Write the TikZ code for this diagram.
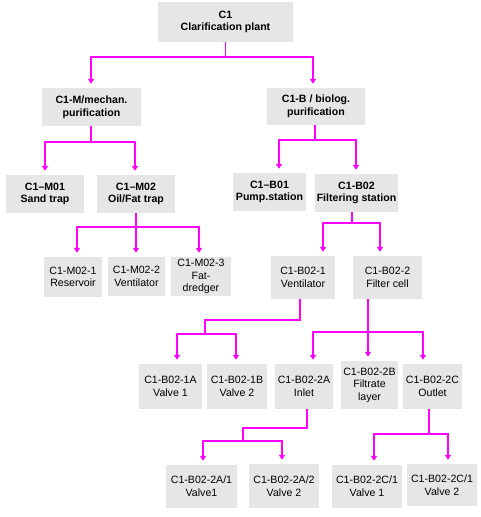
\documentclass[tikz,border=0pt]{standalone}
\usepackage{fontspec}
\setmainfont{Liberation Sans}
\usepackage{tikz}
\usetikzlibrary{arrows.meta}
\definecolor{boxgray}{RGB}{230,230,230}
\definecolor{linkmagenta}{RGB}{255,0,255}
\tikzset{
    unit box/.style={fill=boxgray, inner sep=0pt, align=center, font=\fontsize{10.6}{12.6}\selectfont},
    head box/.style={unit box, font=\fontsize{10.6}{12.6}\selectfont\bfseries},
    link/.style={draw=linkmagenta, line width=1.6pt},
    link arrow/.style={link, -{Triangle[width=6pt,length=5pt]}, shorten >=4pt},
}

\begin{document}
\begin{tikzpicture}[x=1pt, y=-1pt]
    \useasboundingbox (0,0) rectangle (481,517);
    % top levels
    \node[head box, minimum width=135, minimum height=40] (c1) at (225.5,22) {C1\\Clarification plant};
    \node[head box, minimum width=99, minimum height=38] (mech) at (91.5,107) {C1-M/mechan.\\purification};
    \node[head box, minimum width=98, minimum height=37] (bio) at (316,106.5) {C1-B / biolog.\\purification};
    \node[head box, minimum width=78, minimum height=38] (m01) at (45,194) {C1--M01\\Sand trap};
    \node[head box, minimum width=78, minimum height=38] (m02) at (136,194) {C1--M02\\Oil/Fat trap};
    \node[head box, minimum width=73, minimum height=38] (b01) at (269.5,192) {C1--B01\\Pump.station};
    \node[head box, minimum width=83, minimum height=38] (b02) at (356.5,193) {C1-B02\\Filtering station};
    % units
    \node[unit box, minimum width=58, minimum height=40] (m021) at (73,277) {C1-M02-1\\Reservoir};
    \node[unit box, minimum width=57, minimum height=39] (m022) at (136.5,276.5) {C1-M02-2\\Ventilator};
    \node[unit box, minimum width=60, minimum height=39] (m023) at (201,276.5) {C1-M02-3\\Fat-\\dredger};
    \node[unit box, minimum width=64, minimum height=43] (b021) at (303,277.5) {C1-B02-1\\Ventilator};
    \node[unit box, minimum width=69, minimum height=43] (b022) at (387.5,277.5) {C1-B02-2\\Filter cell};
    \node[unit box, minimum width=63, minimum height=45] (b021a) at (170.5,386.5) {C1-B02-1A\\Valve 1};
    \node[unit box, minimum width=60, minimum height=45] (b021b) at (237,386.5) {C1-B02-1B\\Valve 2};
    \node[unit box, minimum width=58, minimum height=45] (b022a) at (304,386.5) {C1-B02-2A\\Inlet};
    \node[unit box, minimum width=57, minimum height=48] (b022b) at (369.5,385) {C1-B02-2B\\Filtrate\\layer};
    \node[unit box, minimum width=59, minimum height=45] (b022c) at (432.5,386.5) {C1-B02-2C\\Outlet};
    \node[unit box, minimum width=71, minimum height=43] (b022a1) at (201.5,486.5) {C1-B02-2A/1\\Valve1};
    \node[unit box, minimum width=70, minimum height=44] (b022a2) at (284,486) {C1-B02-2A/2\\Valve 2};
    \node[unit box, minimum width=70, minimum height=43] (b022c1) at (367,486.5) {C1-B02-2C/1\\Valve 1};
    \node[unit box, minimum width=70, minimum height=42] (b022c2) at (442,485) {C1-B02-2C/1\\Valve 2};

    % connectors
    \draw[link] (c1.south) -- ++(0,15) coordinate (jc1);
    \draw[link arrow] (jc1) -| ([xshift=-0.5pt]mech.north);
    \draw[link arrow] (jc1) -| ([xshift=-3pt]bio.north);

    \draw[link] ([xshift=-0.5pt]mech.south) -- ++(0,16) coordinate (jmech);
    \draw[link arrow] (jmech) -| (m01.north);
    \draw[link arrow] (jmech) -| ([xshift=-1pt]m02.north);

    \draw[link] ([xshift=-1pt]bio.south) -- ++(0,15) coordinate (jbio);
    \draw[link arrow] (jbio) -| ([xshift=9.5pt]b01.north);
    \draw[link arrow] (jbio) -| ([xshift=-0.5pt]b02.north);

    \draw[link] (m02.south) -- ++(0,14) coordinate (jm02);
    \draw[link arrow] (jm02) -| ([xshift=4pt]m021.north);
    \draw[link arrow] (jm02) -| ([xshift=-0.5pt]m022.north);
    \draw[link arrow] (jm02) -| ([xshift=-2pt]m023.north);

    \draw[link] ([xshift=-4.5pt]b02.south) -- ++(0,11) coordinate (jb02);
    \draw[link arrow] (jb02) -| ([xshift=20pt]b021.north);
    \draw[link arrow] (jb02) -| ([xshift=-7.5pt]b022.north);

    \draw[link] ([xshift=-3pt]b021.south) -- ++(0,21) -- ++(-95,0) -- ++(0,14) coordinate (jb021);
    \draw[link arrow] (jb021) -| ([xshift=6.5pt]b021a.north);
    \draw[link arrow] (jb021) -| ([xshift=-1pt]b021b.north);

    \draw[link] ([xshift=-19.5pt]b022.south) -- ++(0,33) coordinate (jb022);
    \draw[link arrow] (jb022) -| ([xshift=9pt]b022a.north);
    \draw[link arrow] (jb022) -| ([xshift=-1.5pt]b022b.north);
    \draw[link arrow] (jb022) -| ([xshift=-9.5pt]b022c.north);

    \draw[link] ([xshift=3pt]b022a.south) -- ++(0,19) -- ++(-64,0) -- ++(0,13) coordinate (jb022a);
    \draw[link arrow] (jb022a) -| ([xshift=1.5pt]b022a1.north);
    \draw[link arrow] (jb022a) -| ([xshift=-2pt]b022a2.north);

    \draw[link] ([xshift=-3.5pt]b022c.south) -- ++(0,25) coordinate (jb022c);
    \draw[link arrow] (jb022c) -| ([xshift=7pt]b022c1.north);
    \draw[link arrow] (jb022c) -| ([xshift=6pt]b022c2.north);
\end{tikzpicture}
\end{document}
